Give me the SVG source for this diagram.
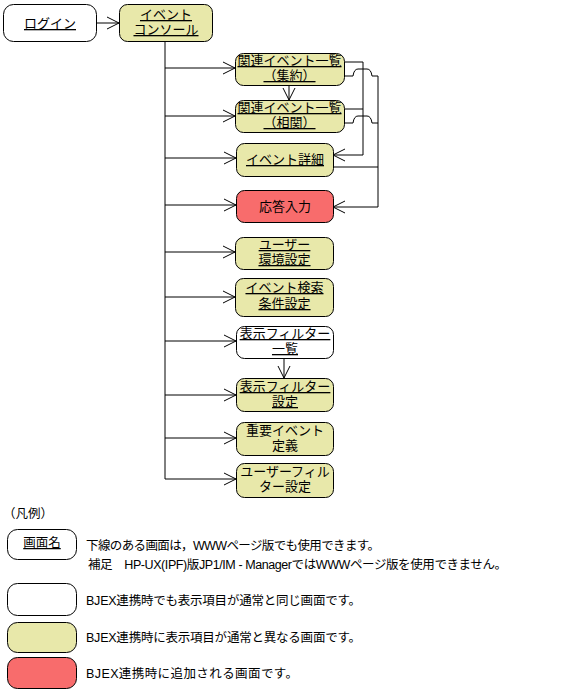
<svg xmlns="http://www.w3.org/2000/svg" width="567" height="690" viewBox="0 0 567 690">
<style>
  .box { stroke: #000; stroke-width: 1; }
  .w { fill: #ffffff; }
  .y { fill: #E8E8AA; }
  .r { fill: #F86C6C; }
  text { font-family: "Liberation Sans", "Noto Sans CJK JP", sans-serif; font-size: 13px; fill: #000; }
  .t { text-anchor: middle; }
  .u { text-decoration: underline; }
  .lg { font-size: 12.5px; }
  .ln { fill: none; stroke: #000; stroke-width: 1; }
</style>
<defs>
  <marker id="ah" markerUnits="userSpaceOnUse" viewBox="0 0 13 12" refX="12" refY="6" markerWidth="13" markerHeight="12" orient="auto" overflow="visible">
    <path d="M0,0 L12,6 L0,12" fill="none" stroke="#000" stroke-width="1"/>
  </marker>
</defs>
<rect width="567" height="690" fill="#fff"/>

<g id="connectors">
  <path class="ln" d="M97,23 H119" marker-end="url(#ah)"/>
  <path class="ln" d="M165,42 V479"/>
  <path class="ln" d="M165,68 H235" marker-end="url(#ah)"/>
  <path class="ln" d="M165,116 H235" marker-end="url(#ah)"/>
  <path class="ln" d="M165,158 H236" marker-end="url(#ah)"/>
  <path class="ln" d="M165,205 H236" marker-end="url(#ah)"/>
  <path class="ln" d="M165,252 H235" marker-end="url(#ah)"/>
  <path class="ln" d="M165,297 H235" marker-end="url(#ah)"/>
  <path class="ln" d="M165,341 H236" marker-end="url(#ah)"/>
  <path class="ln" d="M165,395 H236" marker-end="url(#ah)"/>
  <path class="ln" d="M165,438 H236" marker-end="url(#ah)"/>
  <path class="ln" d="M165,479 H236" marker-end="url(#ah)"/>
  <path class="ln" d="M289,85 V100" marker-end="url(#ah)"/>
  <path class="ln" d="M284,358 V378" marker-end="url(#ah)"/>
  <path class="ln" d="M344,62 H363 V155 H333" marker-end="url(#ah)"/>
  <path class="ln" d="M344,109 H363"/>
  <path class="ln" d="M344,76 H353 Q354,69 358,69 H367 Q371,69 372,76 H378"/>
  <path class="ln" d="M344,123 H353 Q354,116 358,116 H367 Q371,116 372,123 H378"/>
  <path class="ln" d="M333,167 H378"/>
  <path class="ln" d="M378,76 V207 H333" marker-end="url(#ah)"/>
</g>

<g id="login">
  <rect class="box w" x="3.5" y="4.5" width="93" height="37" rx="10"/>
  <text class="t u" x="50" y="28">ログイン</text>
</g>
<g id="event-console">
  <rect class="box y" x="119.5" y="4.5" width="93" height="37" rx="8"/>
  <text class="t u" x="166" y="19">イベント</text>
  <text class="t u" x="166" y="34">コンソール</text>
</g>
<g id="related-summary">
  <rect class="box y" x="235.5" y="53.5" width="109" height="32" rx="8"/>
  <text class="t u" x="289.5" y="65">関連イベント一覧</text>
  <text class="t u" x="289.5" y="80">（集約）</text>
</g>
<g id="related-correlation">
  <rect class="box y" x="235.5" y="100.5" width="109" height="32" rx="8"/>
  <text class="t u" x="289.5" y="112">関連イベント一覧</text>
  <text class="t u" x="289.5" y="127">（相関）</text>
</g>
<g id="event-detail">
  <rect class="box y" x="236.5" y="143.5" width="97" height="33" rx="8"/>
  <text class="t u" x="285" y="164">イベント詳細</text>
</g>
<g id="response-input">
  <rect class="box r" x="236.5" y="190.5" width="97" height="32" rx="8"/>
  <text class="t" x="285" y="211">応答入力</text>
</g>
<g id="user-env">
  <rect class="box y" x="235.5" y="237.5" width="98" height="32" rx="8"/>
  <text class="t u" x="284.5" y="249">ユーザー</text>
  <text class="t u" x="284.5" y="264">環境設定</text>
</g>
<g id="event-search">
  <rect class="box y" x="235.5" y="278.5" width="98" height="38" rx="8"/>
  <text class="t u" x="284.5" y="292">イベント検索</text>
  <text class="t u" x="284.5" y="308">条件設定</text>
</g>
<g id="filter-list">
  <rect class="box w" x="236.5" y="326.5" width="97" height="32" rx="8"/>
  <text class="t u" x="285" y="338">表示フィルター</text>
  <text class="t u" x="285" y="353">一覧</text>
</g>
<g id="filter-setting">
  <rect class="box y" x="236.5" y="378.5" width="97" height="33" rx="8"/>
  <text class="t u" x="285" y="391">表示フィルター</text>
  <text class="t u" x="285" y="406">設定</text>
</g>
<g id="important-event">
  <rect class="box y" x="236.5" y="422.5" width="97" height="33" rx="8"/>
  <text class="t" x="285" y="435">重要イベント</text>
  <text class="t" x="285" y="450">定義</text>
</g>
<g id="user-filter">
  <rect class="box y" x="236.5" y="463.5" width="97" height="34" rx="8"/>
  <text class="t" x="285" y="476">ユーザーフィル</text>
  <text class="t" x="285" y="491">ター設定</text>
</g>

<g id="legend">
  <text class="lg" x="3" y="518">（凡例）</text>
  <rect class="box w" x="7.5" y="529.5" width="69" height="30" rx="10"/>
  <text class="t u lg" x="42" y="547">画面名</text>
  <text class="lg" x="86" y="550" textLength="294">下線のある画面は，WWWページ版でも使用できます。</text>
  <text class="lg" x="88" y="569" textLength="419">補足　HP-UX(IPF)版JP1/IM - ManagerではWWWページ版を使用できません。</text>
  <rect class="box w" x="7.5" y="583.5" width="69" height="32" rx="10"/>
  <text class="lg" x="86" y="605" textLength="275">BJEX連携時でも表示項目が通常と同じ画面です。</text>
  <rect class="box y" x="7.5" y="622.5" width="69" height="30" rx="10"/>
  <text class="lg" x="86" y="642" textLength="275">BJEX連携時に表示項目が通常と異なる画面です。</text>
  <rect class="box r" x="7.5" y="657.5" width="69" height="31" rx="10"/>
  <text class="lg" x="86" y="678" textLength="212">BJEX連携時に追加される画面です。</text>
</g>
</svg>
